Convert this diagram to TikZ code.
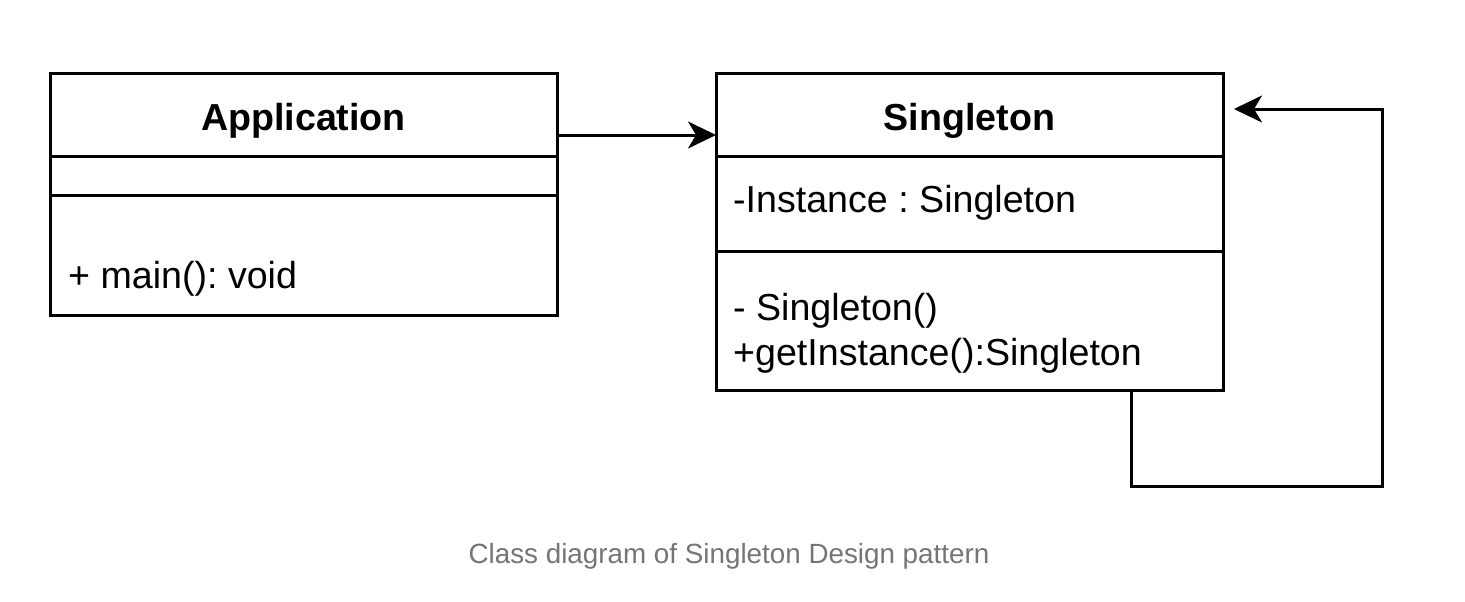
\documentclass[tikz,border=0pt]{standalone}
\usepackage{fontspec}
\setmainfont{Liberation Sans}
\usetikzlibrary{arrows.meta,calc}
\frenchspacing
\begin{document}
\begin{tikzpicture}[x=1pt,y=-1pt,
  classbox/.style={draw=black,line width=3pt,rectangle,inner sep=0pt,outer sep=0pt,anchor=north west},
  sepline/.style={draw=black,line width=3pt},
  titletext/.style={anchor=base,inner sep=0pt,font=\bfseries\fontsize{37.6}{45}\selectfont},
  membertext/.style={anchor=base west,inner sep=0pt,font=\fontsize{37.6}{45}\selectfont},
  arr/.style={draw=black,line width=3pt,-{Stealth[length=28pt,width=27pt,inset=8pt]}},
  captext/.style={anchor=base,inner sep=0pt,text=captiongray,font=\fontsize{27.8}{33}\selectfont}
]
\definecolor{captiongray}{RGB}{117,117,117}
\useasboundingbox (0,0) rectangle (1465,602);
\fill[white] (0,0) rectangle (1465,602);

% Application class
\node[classbox,minimum width=507pt,minimum height=241pt] (app) at (50,74) {};
\draw[sepline] ($(app.north west)+(0,82)$) -- ($(app.north east)+(0,82)$);
\draw[sepline] ($(app.north west)+(0,121)$) -- ($(app.north east)+(0,121)$);
\node[titletext] (apptitle) at (303.5,130) {Application};
\node[membertext] (appmain) at (68,288) {+ main(): void};

% Singleton class
\node[classbox,minimum width=507pt,minimum height=316pt] (single) at (716,74) {};
\draw[sepline] ($(single.north west)+(0,82)$) -- ($(single.north east)+(0,82)$);
\draw[sepline] ($(single.north west)+(0,177)$) -- ($(single.north east)+(0,177)$);
\node[titletext] (singletitle) at (969.5,130) {Singleton};
\node[membertext] (sattr) at (733,212) {-Instance : Singleton};
\node[membertext] (sctor) at (733,320) {- Singleton()};
\node[membertext] (sget) at (733,365) {+getInstance():Singleton};

% Association arrow
\draw[arr] ($(app.north east)+(0,61)$) -- ($(single.north west)+(0,61)$);

% Self loop
\coordinate (loopstart) at ($(single.south west)+(415,0)$);
\coordinate (loopend) at ($(single.north east)+(11,35)$);
\draw[arr] (loopstart) |- (1382,486) -- (1382,109) -- (loopend);

% Caption
\node[captext] (caption) at (729,563) {Class diagram of Singleton Design pattern};
\end{tikzpicture}
\end{document}
